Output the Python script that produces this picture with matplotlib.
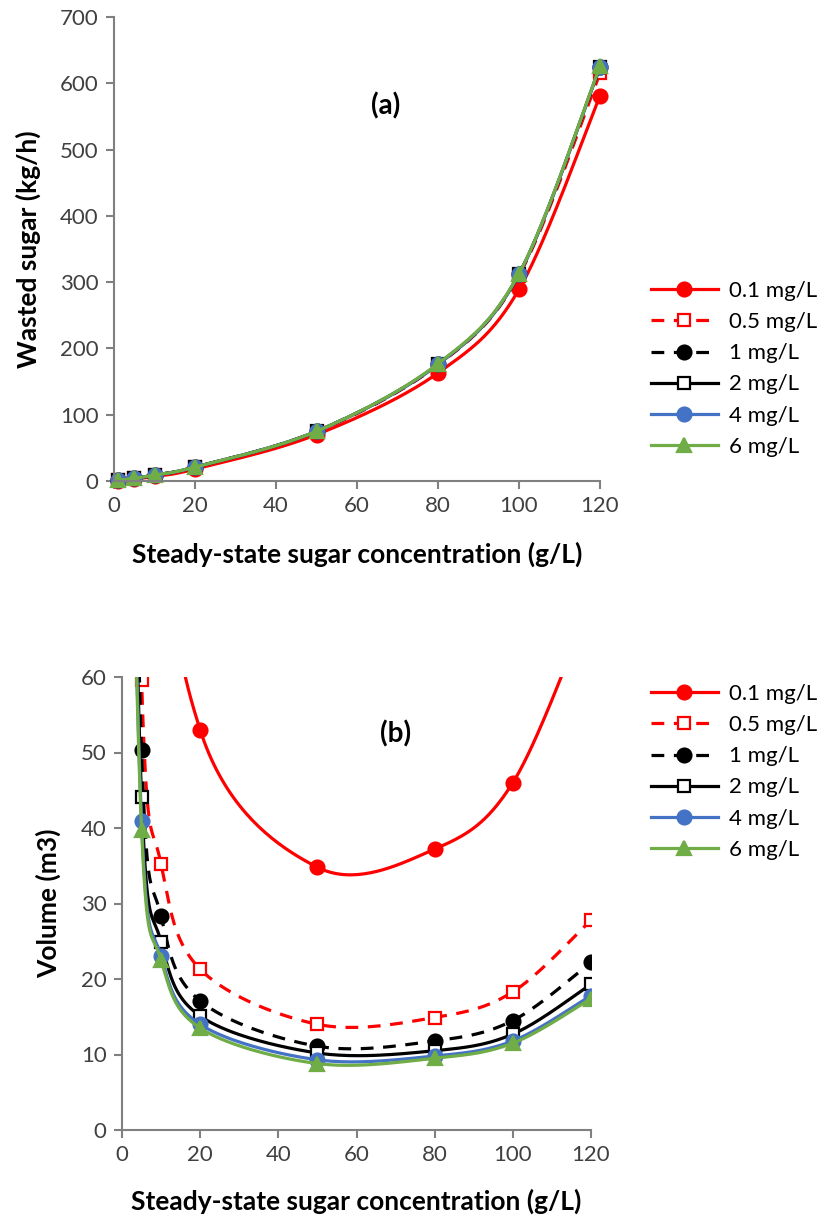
import numpy as np
import matplotlib.pyplot as plt

# panel (a): wasted sugar (kg/h)
xa = [1, 5, 10, 20, 50, 80, 100, 120]
wa_01 = [0.5, 3, 7, 18, 70, 163, 289, 581]
wa_05 = [1, 4, 9, 21, 74, 175, 310, 615]
wa_1 = [1, 4, 9, 21, 75, 176, 312, 624]
wa_2 = [1, 4, 9, 21, 75, 176, 312, 625]
wa_4 = [1, 4, 9, 21, 75, 176, 312, 625]
wa_6 = [1, 4, 9, 21, 75, 177, 313, 626]

# panel (b): volume (m3), first points are off the top of the axis
xb = [1, 5, 10, 20, 50, 80, 100, 120]
vb_01 = [600, 240, 100, 53.0, 34.8, 37.2, 46.0, 70.0]
vb_05 = [180, 59.6, 35.2, 21.3, 14.0, 14.9, 18.3, 27.8]
vb_1 = [158, 50.3, 28.3, 17.1, 11.1, 11.8, 14.5, 22.2]
vb_2 = [138, 44.1, 24.9, 15.1, 10.2, 10.5, 12.7, 19.3]
vb_4 = [128, 40.9, 23.0, 14.0, 9.3, 9.8, 11.8, 17.8]
vb_6 = [125, 39.8, 22.5, 13.5, 8.8, 9.5, 11.5, 17.4]

labels = ["0.1 mg/L", "0.5 mg/L", "1 mg/L", "2 mg/L", "4 mg/L", "6 mg/L"]
styles = [
    dict(color="#FF0000", ls="-", marker="o", mfc="#FF0000", ms=10),
    dict(color="#FF0000", ls=(0, (4, 3)), marker="s", mfc="white", ms=8),
    dict(color="black", ls=(0, (4, 3)), marker="o", mfc="black", ms=10),
    dict(color="black", ls="-", marker="s", mfc="white", ms=8),
    dict(color="#4472C4", ls="-", marker="o", mfc="#4472C4", ms=10),
    dict(color="#70AD47", ls="-", marker="^", mfc="#70AD47", ms=10),
]


def smooth(x, y, n=40):
    # excel-like smoothed line (catmull-rom bezier)
    p = np.column_stack([x, y]).astype(float)
    p = np.vstack([p[0], p, p[-1]])
    t = np.linspace(0, 1, n)[:, None]
    out = []
    for i in range(1, len(p) - 2):
        p0, p1, p2, p3 = p[i - 1], p[i], p[i + 1], p[i + 2]
        c1 = p1 + (p2 - p0) / 6
        c2 = p2 - (p3 - p1) / 6
        seg = (1 - t) ** 3 * p1 + 3 * (1 - t) ** 2 * t * c1 + 3 * (1 - t) * t ** 2 * c2 + t ** 3 * p2
        out.append(seg)
    out = np.vstack(out)
    return out[:, 0], out[:, 1]


plt.rcParams['font.family'] = ['Lato', 'DejaVu Sans']

fig = plt.figure(figsize=(8.36, 12.26), dpi=100)
ax1 = fig.add_axes([114 / 836, 1 - 481 / 1226, 486 / 836, 464 / 1226])
ax2 = fig.add_axes([122 / 836, 1 - 1130 / 1226, 469 / 836, 453 / 1226])


def draw(ax, x, series, clip):
    handles = []
    for y, st, lab in zip(series, styles, labels):
        sx, sy = smooth(x, y)
        ax.plot(sx, sy, color=st["color"], ls=st["ls"], lw=2.3)
        ax.plot(x, y, ls="none", marker=st["marker"], ms=st["ms"], mfc=st["mfc"],
                mec=st["color"], mew=1.6, clip_on=clip)
        h, = ax.plot([], [], color=st["color"], ls=st["ls"], lw=2.3, marker=st["marker"],
                     ms=st["ms"], mfc=st["mfc"], mec=st["color"], mew=1.6, label=lab)
        handles.append(h)
    return handles


h1 = draw(ax1, xa, [wa_01, wa_05, wa_1, wa_2, wa_4, wa_6], False)
h2 = draw(ax2, xb, [vb_01, vb_05, vb_1, vb_2, vb_4, vb_6], True)

for ax in (ax1, ax2):
    ax.set_xlim(0, 120)
    ax.set_xticks(range(0, 121, 20))
    for s in ("top", "right"):
        ax.spines[s].set_visible(False)
    for s in ("left", "bottom"):
        ax.spines[s].set_color("#808080")
        ax.spines[s].set_linewidth(1.5)
    ax.tick_params(direction="out", length=6, width=1.5, color="#808080",
                   labelsize=16, labelcolor="#404040", pad=5)

ax1.set_xlabel("Steady-state sugar concentration (g/L)", fontsize=19,
               fontweight="bold", labelpad=18)
ax2.set_xlabel("Steady-state sugar concentration (g/L)", fontsize=19,
               fontweight="bold", labelpad=17)

ax1.set_ylim(0, 700)
ax1.set_yticks(range(0, 701, 100))
ax1.set_ylabel("Wasted sugar (kg/h)", fontsize=19, fontweight="bold", labelpad=14)
ax1.text(67, 566, "(a)", fontsize=20, fontweight="bold", ha="center", va="center")

ax2.set_ylim(0, 60)
ax2.set_yticks(range(0, 61, 10))
ax2.set_ylabel("Volume (m3)", fontsize=19, fontweight="bold", labelpad=14)
ax2.text(70, 52.5, "(b)", fontsize=20, fontweight="bold", ha="center", va="center")

for ax, h, top in ((ax1, h1, 270), (ax2, h2, 673)):
    ax.legend(handles=h, loc="upper left", bbox_to_anchor=(640 / 836, 1 - top / 1226),
              bbox_transform=fig.transFigure, frameon=False, fontsize=16,
              handlelength=3.0, labelspacing=0.5, handletextpad=0.5, borderpad=0)

plt.savefig("out.png", dpi=100)
